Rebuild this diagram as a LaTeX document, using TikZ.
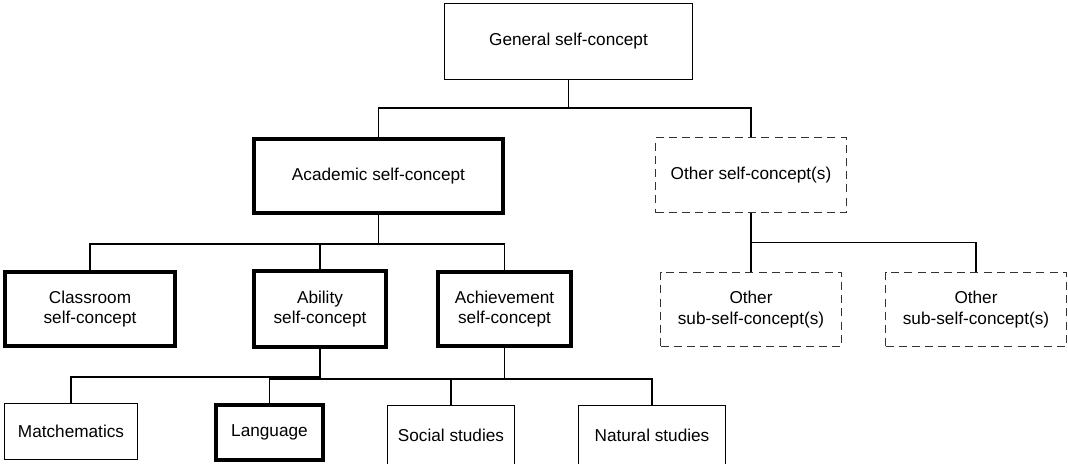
\documentclass[tikz,border=0pt]{standalone}
\usepackage{fontspec}
\setmainfont{Liberation Sans}
\usepackage{tikz}
\usetikzlibrary{positioning}
\tikzset{box/.style = {draw, line width=0.5pt, inner sep=0, align=center},
  thickbox/.style = {box, line width=2pt},
  dashbox/.style = {box, draw=mgray, dash pattern=on 4pt off 2.6pt},
  conn/.style = {line width=0.9pt}}
\definecolor{mgray}{rgb}{0.2, 0.2, 0.2}

\begin{document}
\begin{tikzpicture}[x=0.5pt, y=-0.5pt, font=\fontsize{8.6}{10.35}\selectfont]
      \useasboundingbox (0, 0) rectangle (1068, 463);

      \node [box, minimum width=124pt, minimum height=38pt] (general) at (568.5, 41.5) {General self-concept};

      \node [thickbox, minimum width=124.5pt, minimum height=37pt] (academic) at (378.5, 176) {Academic self-concept};
      \node [dashbox, minimum width=95.5pt, minimum height=37.5pt] (other) at (751, 175) {Other self-concept(s)};

      \node [thickbox, minimum width=85pt, minimum height=37pt] (classroom) at (90, 309) {Classroom\\self-concept};
      \node [thickbox, minimum width=66pt, minimum height=38pt] (ability) at (320, 309) {Ability\\self-concept};
      \node [thickbox, minimum width=66.5pt, minimum height=37pt] (achievement) at (504.5, 309) {Achievement\\self-concept};
      \node [dashbox, minimum width=90.5pt, minimum height=37pt] (subone) at (751, 309.5) {Other\\sub-self-concept(s)};
      \node [dashbox, minimum width=90.5pt, minimum height=37pt] (subtwo) at (976, 309.5) {Other\\sub-self-concept(s)};

      \node [box, minimum width=66.5pt, minimum height=28pt] (math) at (71, 431.5) {Matchematics};
      \node [thickbox, minimum width=53.5pt, minimum height=27.5pt] (language) at (269.5, 432.5) {Language};
      \node [box, minimum width=63.5pt, minimum height=30pt] (social) at (451, 435.5) {Social studies};
      \node [box, minimum width=73.5pt, minimum height=30pt] (natural) at (652, 435.5) {Natural studies};

      \draw [conn] (general.south) -- ++(0, 28) -| (academic.north);
      \draw [conn] (general.south) -- ++(0, 28) -| (other.north);

      \draw [conn] (academic.south) -- ++(0, 29) -| (classroom.north);
      \draw [conn] (academic.south) -- ++(0, 29) -| (ability.north);
      \draw [conn] (academic.south) -- ++(0, 29) -| (achievement.north);

      \draw [conn] (other.south) -- (subone.north);
      \draw [conn] (other.south) -- ++(0, 29.5) -| (subtwo.north);

      \draw [conn] (ability.south) -- ++(0, 28) -| (math.north);
      \draw [conn] (achievement.south) -- ++(0, 31) -| (language.north);
      \draw [conn] (achievement.south) -- ++(0, 31) -| (social.north);
      \draw [conn] (achievement.south) -- ++(0, 31) -| (natural.north);
    \end{tikzpicture}
\end{document}
